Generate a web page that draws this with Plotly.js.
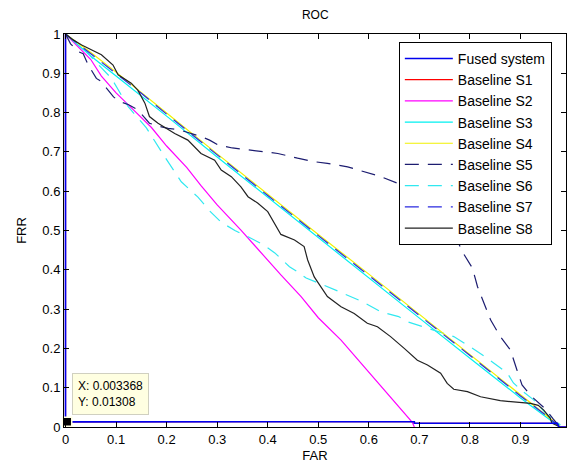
<!DOCTYPE html>
<html>
<head>
<meta charset="utf-8">
<script src="https://cdn.plot.ly/plotly-3.0.1.min.js"></script>
<style>html,body{margin:0;padding:0;background:#fff;}#chart{width:568px;height:466px;}</style>
</head>
<body>
<div id="chart"></div>
<script>
// ---- data ----
const seriesNames = ["Fused system","Baseline S1","Baseline S2","Baseline S3","Baseline S4","Baseline S5","Baseline S6","Baseline S7","Baseline S8"];

const fusedX = [0, 0, 0.003368, 0.69, 0.69, 0.973, 0.976, 0.99];
const fusedY = [1, 0.0135, 0.0131, 0.0135, 0.0094, 0.0094, 0, 0];

const s1X = [0, 0, 0.003368, 0.69, 0.69, 0.973, 0.976, 0.99];
const s1Y = [1, 0.0135, 0.0131, 0.0135, 0.0094, 0.0094, 0, 0];

const s2X = [0, 0.02, 0.05, 0.071, 0.1, 0.14, 0.17, 0.2, 0.24, 0.268, 0.3, 0.347, 0.4, 0.426, 0.466, 0.5, 0.545, 0.6, 0.65, 0.686, 0.69];
const s2Y = [1, 0.975, 0.935, 0.893, 0.85, 0.8, 0.762, 0.715, 0.66, 0.614, 0.565, 0.501, 0.424, 0.387, 0.332, 0.278, 0.221, 0.14, 0.065, 0.012, 0];

const s3X = [0, 0.05, 0.1, 0.15, 0.2, 0.3, 0.4, 0.5, 0.6, 0.7, 0.8, 0.9, 0.95, 0.978];
const s3Y = [1, 0.944, 0.893, 0.843, 0.791, 0.687, 0.584, 0.482, 0.38, 0.277, 0.175, 0.074, 0.026, 0];

const s4X = [0, 0.05, 0.1, 0.15, 0.2, 0.3, 0.4, 0.5, 0.6, 0.7, 0.8, 0.9, 0.95, 0.978];
const s4Y = [1, 0.953, 0.903, 0.852, 0.799, 0.695, 0.592, 0.49, 0.389, 0.287, 0.185, 0.082, 0.031, 0.002];

const s5X = [0, 0.01, 0.025, 0.035, 0.045, 0.05, 0.061, 0.07, 0.084, 0.095, 0.107, 0.125, 0.143, 0.155, 0.166, 0.185, 0.203, 0.225, 0.249, 0.268, 0.285, 0.301, 0.33, 0.361, 0.39, 0.42, 0.459, 0.492, 0.518, 0.558, 0.584, 0.624, 0.657, 0.7, 0.74, 0.77, 0.785, 0.805, 0.815, 0.828, 0.841, 0.86, 0.88, 0.893, 0.903, 0.92, 0.95, 0.965, 0.978];
const s5Y = [1, 0.975, 0.955, 0.95, 0.921, 0.91, 0.887, 0.88, 0.857, 0.84, 0.828, 0.82, 0.807, 0.79, 0.773, 0.765, 0.76, 0.756, 0.747, 0.739, 0.73, 0.718, 0.71, 0.705, 0.7, 0.696, 0.684, 0.675, 0.671, 0.662, 0.652, 0.637, 0.62, 0.59, 0.54, 0.49, 0.446, 0.404, 0.357, 0.315, 0.272, 0.23, 0.196, 0.145, 0.107, 0.08, 0.045, 0.02, 0];

const s6X = [0, 0.02, 0.038, 0.06, 0.091, 0.124, 0.16, 0.196, 0.229, 0.262, 0.285, 0.308, 0.335, 0.361, 0.39, 0.414, 0.443, 0.459, 0.476, 0.511, 0.551, 0.584, 0.624, 0.659, 0.676, 0.696, 0.72, 0.745, 0.768, 0.801, 0.834, 0.874, 0.886, 0.905, 0.926, 0.953, 0.979];
const s6Y = [1, 0.98, 0.959, 0.93, 0.887, 0.815, 0.761, 0.688, 0.624, 0.585, 0.55, 0.521, 0.5, 0.484, 0.465, 0.443, 0.408, 0.395, 0.379, 0.361, 0.34, 0.321, 0.293, 0.281, 0.268, 0.26, 0.25, 0.24, 0.23, 0.204, 0.175, 0.137, 0.112, 0.09, 0.069, 0.031, 0.005];

const s7X = [0, 0.05, 0.1, 0.15, 0.2, 0.3, 0.4, 0.5, 0.6, 0.7, 0.8, 0.9, 0.95, 0.978];
const s7Y = [1, 0.95, 0.9, 0.849, 0.796, 0.692, 0.589, 0.487, 0.386, 0.284, 0.182, 0.079, 0.03, 0];

const s8X = [0, 0.015, 0.032, 0.05, 0.071, 0.094, 0.104, 0.13, 0.143, 0.157, 0.166, 0.183, 0.2, 0.216, 0.242, 0.268, 0.295, 0.308, 0.328, 0.347, 0.361, 0.38, 0.4, 0.413, 0.426, 0.453, 0.472, 0.479, 0.492, 0.518, 0.545, 0.571, 0.597, 0.617, 0.643, 0.67, 0.696, 0.716, 0.742, 0.755, 0.768, 0.795, 0.821, 0.86, 0.9, 0.92, 0.935, 0.946, 0.959, 0.962, 0.975];
const s8Y = [1, 0.985, 0.972, 0.96, 0.947, 0.921, 0.896, 0.875, 0.857, 0.824, 0.79, 0.773, 0.76, 0.747, 0.73, 0.696, 0.679, 0.654, 0.637, 0.611, 0.586, 0.57, 0.548, 0.518, 0.49, 0.476, 0.459, 0.425, 0.382, 0.332, 0.306, 0.289, 0.264, 0.255, 0.23, 0.2, 0.17, 0.158, 0.137, 0.111, 0.096, 0.09, 0.077, 0.067, 0.062, 0.06, 0.055, 0.043, 0.022, 0.01, 0.002];

const tipX = [0.003368];
const tipY = [0.01308];
const tipText = "X: 0.003368<br>Y: 0.01308";

const xTicks = [0, 0.1, 0.2, 0.3, 0.4, 0.5, 0.6, 0.7, 0.8, 0.9];
const yTicks = [0, 0.1, 0.2, 0.3, 0.4, 0.5, 0.6, 0.7, 0.8, 0.9, 1];
const xTickText = ["0", "0.1", "0.2", "0.3", "0.4", "0.5", "0.6", "0.7", "0.8", "0.9"];
const yTickText = ["0", "0.1", "0.2", "0.3", "0.4", "0.5", "0.6", "0.7", "0.8", "0.9", "1"];

// ---- build traces ----
const FONT = "Liberation Sans, Arial, sans-serif";
const dashP = "14px,9px";
function tr(i, x, y, color, dash, rank, w) {
  return {x: x, y: y, type: "scatter", mode: "lines", name: seriesNames[i],
          line: {color: color, width: w || 1.2, dash: dash}, legendrank: rank, hoverinfo: "skip"};
}
const traces = [
  tr(1, s1X, s1Y, "#ff0000", "solid", 2),
  tr(2, s2X, s2Y, "#ff00ff", "solid", 3),
  tr(3, s3X, s3Y, "#00f0f0", "solid", 4),
  tr(6, s6X, s6Y, "#30e8f0", dashP, 7),
  tr(4, s4X, s4Y, "#f0f000", "solid", 5),
  tr(7, s7X, s7Y, "#2a2ae0", dashP, 8),
  tr(5, s5X, s5Y, "#1c1c70", dashP, 6),
  tr(8, s8X, s8Y, "#222222", "solid", 9),
  tr(0, fusedX, fusedY, "#0000ee", "solid", 1, 1.6),
  {x: tipX, y: tipY, type: "scatter", mode: "markers", showlegend: false, cliponaxis: false,
   marker: {symbol: "square", size: 9, color: "#000000", line: {color: "#ffffe1", width: 1.5}}, hoverinfo: "skip"}
];

const layout = {
  width: 568, height: 466,
  margin: {l: 64, r: 2, t: 34, b: 39},
  paper_bgcolor: "#ffffff", plot_bgcolor: "#ffffff",
  font: {family: FONT, color: "#000", size: 12},
  showlegend: true,
  title: {text: "ROC", font: {family: FONT, size: 12, color: "#000"}, x: 0.555, xanchor: "center", y: 0.968, yanchor: "middle", xref: "container", yref: "container"},
  xaxis: {range: [-0.003, 0.99], tickvals: xTicks, ticktext: xTickText, ticks: "inside", ticklen: 5, tickcolor: "#000",
          showline: true, linecolor: "#000", linewidth: 1, mirror: "ticks", showgrid: false, zeroline: false,
          tickfont: {family: FONT, size: 13}, title: {text: "FAR", font: {family: FONT, size: 13}, standoff: 5}, automargin: false, fixedrange: true},
  yaxis: {range: [0, 1], tickvals: yTicks, ticktext: yTickText, ticks: "inside", ticklen: 5, tickcolor: "#000",
          showline: true, linecolor: "#000", linewidth: 1, mirror: "ticks", showgrid: false, zeroline: false,
          tickfont: {family: FONT, size: 13}, title: {text: "FRR", font: {family: FONT, size: 13}, standoff: 12}, automargin: false, fixedrange: true},
  legend: {x: 0.667, y: 0.98, xanchor: "left", yanchor: "top", bgcolor: "#ffffff", bordercolor: "#000", borderwidth: 1,
           font: {family: FONT, size: 14, color: "#000"}, tracegroupgap: 0, itemwidth: 48, traceorder: "normal"},
  annotations: [{x: 0.0138, y: 0.0305, xref: "x", yref: "y", xanchor: "left", yanchor: "bottom", showarrow: false,
                 text: tipText, align: "left", bgcolor: "#ffffe1", bordercolor: "#d0d0c0", borderwidth: 1, borderpad: 5,
                 font: {family: FONT, size: 12, color: "#000"}}]
};

Plotly.newPlot("chart", traces, layout, {staticPlot: true, displayModeBar: false});
</script>
</body>
</html>
